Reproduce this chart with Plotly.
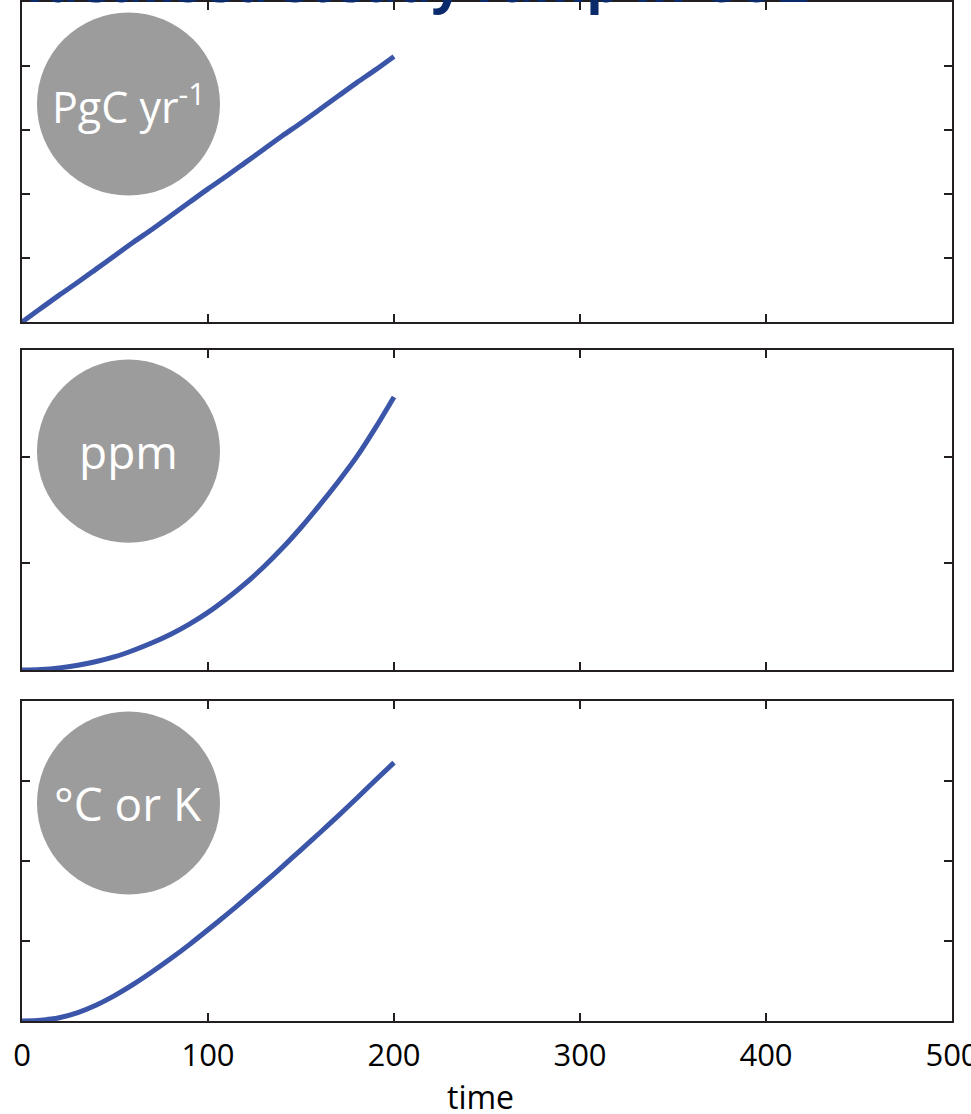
import plotly.graph_objects as go

# Idealised experiment: emissions ramp linearly for 200 years
time = [0, 10, 20, 30, 40, 50, 60, 70, 80, 90, 100,
        110, 120, 130, 140, 150, 160, 170, 180, 190, 200]
emissions = [0, 0.21, 0.42, 0.62, 0.83, 1.04, 1.25, 1.45, 1.66, 1.87, 2.08,
             2.28, 2.49, 2.70, 2.91, 3.11, 3.32, 3.53, 3.74, 3.94, 4.15]
concentration = [0, 0.005, 0.02, 0.045, 0.08, 0.125, 0.185, 0.255, 0.335, 0.43, 0.54,
                 0.668, 0.81, 0.968, 1.143, 1.336, 1.545, 1.765, 2.0, 2.27, 2.56]
temperature = [0, 0.01, 0.04, 0.105, 0.2, 0.32, 0.46, 0.615, 0.78, 0.955, 1.14,
               1.33, 1.525, 1.725, 1.93, 2.14, 2.35, 2.565, 2.785, 3.01, 3.23]

x_ticks = [0, 100, 200, 300, 400, 500]
unit_labels = ["PgC yr<sup>-1</sup>", "ppm", "°C or K"]
unit_label_sizes = [43, 46, 46]

LINE_BLUE = "#3b55a8"
CIRCLE_GREY = "#9c9c9c"
AXIS_COLOR = "#231f20"
FONT = "Open Sans"

fig = go.Figure()

# bottom panel = x/y, middle = x2/y2, top = x3/y3
series = [("x3", "y3", emissions), ("x2", "y2", concentration), ("x", "y", temperature)]
for xa, ya, vals in series:
    fig.add_trace(go.Scatter(
        x=time, y=vals, xaxis=xa, yaxis=ya, mode="lines",
        line=dict(color=LINE_BLUE, width=5, shape="spline", smoothing=0.8),
        showlegend=False, hoverinfo="skip",
    ))

axis_common = dict(
    showline=True, linecolor=AXIS_COLOR, linewidth=1.5, mirror="ticks",
    ticks="inside", ticklen=8, tickwidth=1.5, tickcolor=AXIS_COLOR,
    showgrid=False, zeroline=False, automargin=False,
)

dom_bottom = [0.0, 0.31403]
dom_middle = [0.34446, 0.65849]
dom_top = [0.68597, 1.0]

fig.update_layout(
    template="none",
    width=971, height=1114,
    margin=dict(l=22, r=19, t=2, b=93),
    paper_bgcolor="white", plot_bgcolor="white",
    font=dict(family=FONT, color="black"),
    xaxis=dict(axis_common, anchor="y", range=[0, 500], tickvals=x_ticks,
               ticktext=[str(v) for v in x_ticks], showticklabels=True,
               ticklabeloverflow="allow",
               tickfont=dict(size=31, family=FONT, color="black"),
               ticklabelstandoff=6),
    xaxis2=dict(axis_common, anchor="y2", range=[0, 500], tickvals=x_ticks,
                showticklabels=False),
    xaxis3=dict(axis_common, anchor="y3", range=[0, 500], tickvals=x_ticks,
                showticklabels=False),
    yaxis=dict(axis_common, anchor="x", domain=dom_bottom, range=[0, 4], dtick=1,
               showticklabels=False),
    yaxis2=dict(axis_common, anchor="x2", domain=dom_middle, range=[0, 3], dtick=1,
                showticklabels=False),
    yaxis3=dict(axis_common, anchor="x3", domain=dom_top, range=[0, 5], dtick=1,
                showticklabels=False),
)

# x-axis title placed close to the page bottom
fig.add_annotation(xref="paper", yref="paper", x=0.4935, y=-0.0745,
                   xanchor="center", yanchor="middle", showarrow=False,
                   text="time", font=dict(size=32, family=FONT, color="black"))

# grey unit badges in the upper-left corner of each panel
badge_refs = [("x3", "y3", 0.681), ("x2", "y2", 0.684), ("x", "y", 0.681)]
for (xa, ya, yc), label, size in zip(badge_refs, unit_labels, unit_label_sizes):
    half_h = 0.286
    fig.add_shape(type="circle", xref=f"{xa} domain", yref=f"{ya} domain",
                  x0=0.0161, x1=0.2129, y0=yc - half_h, y1=yc + half_h,
                  fillcolor=CIRCLE_GREY, line=dict(width=0), layer="above")
    fig.add_annotation(xref=f"{xa} domain", yref=f"{ya} domain",
                       x=0.1145, y=yc, text=label, showarrow=False,
                       xanchor="center", yanchor="middle",
                       font=dict(size=size, family=FONT, color="white"))

# slide heading, running off the top edge of the page
fig.add_annotation(xref="paper", yref="paper", x=0.0032, y=1 - 16.5 / 1019,
                   xanchor="left", yanchor="bottom", showarrow=False,
                   text="<b>Idealised steady ramp in CO2</b>",
                   font=dict(size=54, family=FONT, color="#0a2a6b"), borderpad=0)

fig.write_html("out.html")
